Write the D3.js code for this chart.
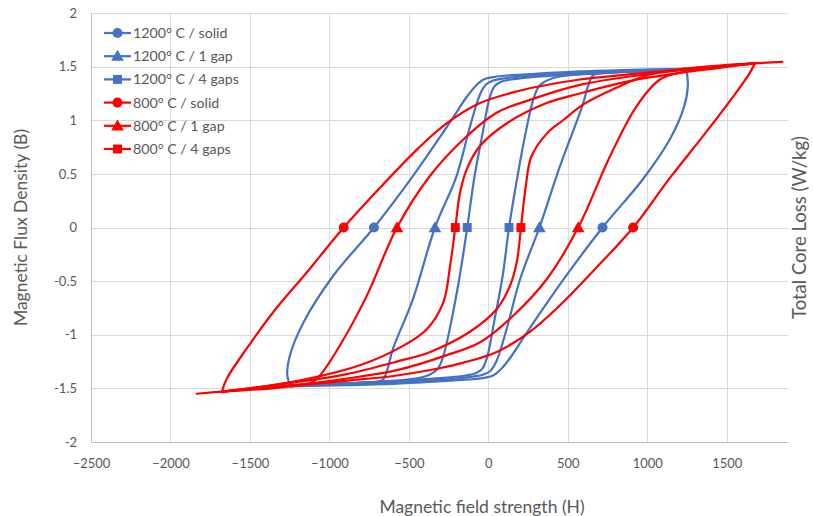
<!DOCTYPE html>
<html>
<head>
<meta charset="utf-8">
<script src="https://cdn.jsdelivr.net/npm/d3@7"></script>
<style>
  html, body { margin: 0; padding: 0; background: #ffffff; }
  svg { display: block; }
  text { font-family: Lato, "Open Sans", sans-serif; fill: #595959; }
</style>
</head>
<body>
<svg id="chart" width="813" height="516"></svg>
<script>
// Axis ticks
const xTicks = [-2500, -2000, -1500, -1000, -500, 0, 500, 1000, 1500];
const yTicks = [2, 1.5, 1, 0.5, 0, -0.5, -1, -1.5, -2];

// Hysteresis loops, [H, B] pairs. "Down" runs from +Bmax to -Bmax, "up" back again.
const blueSolidDown = [[1245,1.48],[900,1.47],[575,1.455],[261,1.43],[100,1.415],[20,1.40],[-30,1.38],[-80,1.32],[-140,1.21],[-242,0.98],[-475,0.48],[-720,0],[-976,-0.45],[-1165,-0.89],[-1250,-1.2],[-1265,-1.38],[-1245,-1.48]];
const blueSolidUp = [[-1245,-1.48],[-900,-1.47],[-575,-1.455],[-261,-1.43],[-100,-1.415],[-20,-1.40],[30,-1.38],[80,-1.32],[140,-1.21],[242,-0.98],[475,-0.48],[718,0],[972,0.45],[1141,0.82],[1230,1.12],[1255,1.32],[1245,1.48]];

const blueGap1Down = [[1245,1.48],[900,1.46],[575,1.44],[261,1.415],[100,1.39],[30,1.37],[-10,1.34],[-50,1.25],[-116,0.94],[-200,0.48],[-336,0],[-475,-0.67],[-600,-1.13],[-637,-1.33],[-665,-1.42],[-800,-1.445],[-1000,-1.46],[-1245,-1.48]];
const blueGap1Up = [[-1245,-1.48],[-900,-1.46],[-575,-1.44],[-261,-1.415],[-100,-1.39],[-30,-1.37],[10,-1.34],[50,-1.25],[116,-0.94],[200,-0.48],[321,0],[450,0.57],[590,1.13],[630,1.33],[660,1.42],[800,1.445],[1000,1.46],[1245,1.48]];

const blueGap4Down = [[1245,1.48],[900,1.455],[575,1.43],[261,1.40],[140,1.38],[80,1.36],[40,1.32],[10,1.22],[-40,0.85],[-90,0.45],[-133,0],[-180,-0.45],[-230,-0.85],[-280,-1.18],[-320,-1.32],[-400,-1.39],[-600,-1.43],[-1000,-1.46],[-1245,-1.48]];
const blueGap4Up = [[-1245,-1.48],[-900,-1.455],[-575,-1.43],[-261,-1.40],[-140,-1.38],[-80,-1.36],[-40,-1.32],[-10,-1.22],[40,-0.85],[90,-0.45],[130,0],[180,0.45],[230,0.85],[280,1.18],[320,1.32],[400,1.39],[600,1.43],[1000,1.46],[1245,1.48]];

const redSolidDown = [[1850,1.545],[1676,1.53],[1200,1.47],[900,1.43],[575,1.38],[300,1.31],[156,1.26],[-53,1.16],[-263,0.97],[-440,0.74],[-682,0.37],[-910,0],[-1143,-0.42],[-1354,-0.79],[-1521,-1.13],[-1646,-1.41],[-1676,-1.53]];
const redSolidUp = [[-1835,-1.55],[-1676,-1.53],[-1200,-1.47],[-900,-1.43],[-575,-1.38],[-300,-1.31],[-156,-1.26],[53,-1.16],[263,-0.97],[440,-0.74],[682,-0.37],[911,0],[1141,0.46],[1360,0.87],[1540,1.22],[1640,1.43],[1676,1.53]];

const redGap1Down = [[1676,1.53],[1200,1.465],[900,1.41],[575,1.33],[261,1.19],[52,1.07],[-158,0.82],[-368,0.48],[-575,0],[-766,-0.64],[-934,-1.10],[-1060,-1.38],[-1110,-1.445],[-1300,-1.49],[-1676,-1.53]];
const redGap1Up = [[-1676,-1.53],[-1200,-1.465],[-900,-1.41],[-575,-1.33],[-261,-1.19],[-52,-1.07],[158,-0.82],[368,-0.48],[565,0],[764,0.66],[932,1.13],[1079,1.38],[1223,1.45],[1400,1.49],[1676,1.53]];

const redGap4Down = [[1676,1.53],[1200,1.44],[900,1.37],[575,1.25],[366,1.16],[114,0.97],[-53,0.76],[-137,0.54],[-179,0.32],[-208,0],[-240,-0.35],[-284,-0.70],[-389,-0.95],[-557,-1.12],[-800,-1.28],[-1100,-1.40],[-1400,-1.48],[-1676,-1.53]];
const redGap4Up = [[-1676,-1.53],[-1200,-1.44],[-900,-1.37],[-575,-1.25],[-366,-1.16],[-114,-0.97],[53,-0.76],[137,-0.54],[179,-0.32],[205,0],[235,0.38],[270,0.66],[370,0.88],[470,1.0],[600,1.15],[800,1.30],[1000,1.42],[1300,1.49],[1676,1.53]];

const seriesNames = ["1200° C / solid", "1200° C / 1 gap", "1200° C / 4 gaps", "800° C / solid", "800° C / 1 gap", "800° C / 4 gaps"];

const series = [
  { name: seriesNames[0], color: "#4472C4", symbol: d3.symbolCircle,   branches: [blueSolidDown, blueSolidUp] },
  { name: seriesNames[1], color: "#4472C4", symbol: d3.symbolTriangle, branches: [blueGap1Down, blueGap1Up] },
  { name: seriesNames[2], color: "#4472C4", symbol: d3.symbolSquare,   branches: [blueGap4Down, blueGap4Up] },
  { name: seriesNames[3], color: "#FF0000", symbol: d3.symbolCircle,   branches: [redSolidDown, redSolidUp] },
  { name: seriesNames[4], color: "#FF0000", symbol: d3.symbolTriangle, branches: [redGap1Down, redGap1Up] },
  { name: seriesNames[5], color: "#FF0000", symbol: d3.symbolSquare,   branches: [redGap4Down, redGap4Up] }
];

const svg = d3.select("#chart");
const plot = { left: 91, right: 788, top: 13, bottom: 442 };

const x = d3.scaleLinear().domain([-2500, 1885]).range([plot.left, plot.right]);
const y = d3.scaleLinear().domain([-2, 2]).range([plot.bottom, plot.top]);

// Gridlines
const grid = svg.append("g").attr("stroke", "#d9d9d9").attr("stroke-width", 1);
grid.selectAll(".gx").data(xTicks).join("line")
  .attr("x1", d => Math.round(x(d)) + 0.5).attr("x2", d => Math.round(x(d)) + 0.5)
  .attr("y1", plot.top).attr("y2", plot.bottom);
grid.selectAll(".gy").data(yTicks).join("line")
  .attr("y1", d => Math.round(y(d)) + 0.5).attr("y2", d => Math.round(y(d)) + 0.5)
  .attr("x1", plot.left).attr("x2", plot.right);

// Axes
const xAxis = svg.append("g")
  .attr("transform", `translate(0,${plot.bottom})`)
  .call(d3.axisBottom(x).tickValues(xTicks).tickSize(0).tickPadding(17).tickFormat(d3.format("d")));
const yAxis = svg.append("g")
  .attr("transform", `translate(${plot.left},0)`)
  .call(d3.axisLeft(y).tickValues(yTicks).tickSize(0).tickPadding(14).tickFormat(d => String(d)));
[xAxis, yAxis].forEach(a => {
  a.select(".domain").attr("stroke", "#bfbfbf");
  a.selectAll("text").style("font-family", "Lato, 'Open Sans', sans-serif").style("font-size", "13px").attr("fill", "#595959");
});

// Axis titles
svg.append("text")
  .attr("transform", `translate(27,${(plot.top + plot.bottom) / 2}) rotate(-90)`)
  .attr("text-anchor", "middle").style("font-size", "17.5px")
  .text("Magnetic Flux Density (B)");
svg.append("text")
  .attr("x", 482).attr("y", 513)
  .attr("text-anchor", "middle").style("font-size", "17.5px")
  .text("Magnetic field strength (H)");
svg.append("text")
  .attr("transform", `translate(806,${(plot.top + plot.bottom) / 2}) rotate(-90)`)
  .attr("text-anchor", "middle").style("font-size", "18.5px")
  .text("Total Core Loss (W/kg)");

// Loops
svg.append("defs").append("clipPath").attr("id", "plot-clip")
  .append("rect").attr("x", plot.left).attr("y", plot.top)
  .attr("width", plot.right - plot.left).attr("height", plot.bottom - plot.top);

const line = d3.line()
  .x(d => x(d[0])).y(d => y(d[1]))
  .curve(d3.curveCatmullRom.alpha(0.5));

const loops = svg.append("g").attr("clip-path", "url(#plot-clip)");
series.forEach(s => {
  const g = loops.append("g");
  s.branches.forEach(b => {
    g.append("path").attr("d", line(b))
      .attr("fill", "none").attr("stroke", s.color).attr("stroke-width", 2.2)
      .attr("stroke-linejoin", "round").attr("stroke-linecap", "round");
  });
});

// Markers at B = 0 (coercive field) of each branch
const symSize = { circle: 80, triangle: 70, square: 80 };
function symbolPath(sym) {
  const size = sym === d3.symbolTriangle ? symSize.triangle : (sym === d3.symbolSquare ? symSize.square : symSize.circle);
  return d3.symbol().type(sym).size(size)();
}
series.forEach(s => {
  s.branches.forEach(b => {
    b.filter(p => p[1] === 0).forEach(p => {
      const dy = s.symbol === d3.symbolTriangle ? 1 : 0;
      svg.append("path").attr("d", symbolPath(s.symbol))
        .attr("transform", `translate(${x(p[0])},${y(p[1]) + dy})`)
        .attr("fill", s.color);
    });
  });
});

// Legend
const legend = svg.append("g").attr("transform", "translate(104,33)");
series.forEach((s, i) => {
  const row = legend.append("g").attr("transform", `translate(0,${i * 23.2})`);
  row.append("line").attr("x1", 0).attr("x2", 27).attr("y1", 0).attr("y2", 0)
    .attr("stroke", s.color).attr("stroke-width", 2.2);
  row.append("path").attr("d", symbolPath(s.symbol))
    .attr("transform", `translate(13.5,${s.symbol === d3.symbolTriangle ? 1 : 0})`)
    .attr("fill", s.color);
  row.append("text").attr("x", 29).attr("y", 5)
    .style("font-size", "14.2px").text(s.name);
});
</script>
</body>
</html>
